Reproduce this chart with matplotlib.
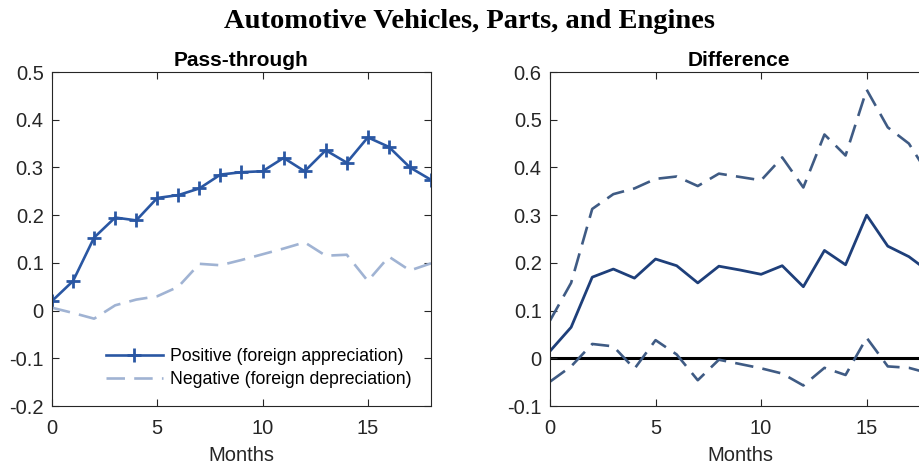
import matplotlib
matplotlib.use("Agg")
import matplotlib.pyplot as plt
import numpy as np

plt.rcParams['font.family'] = ['Liberation Sans', 'DejaVu Sans']
plt.rcParams['axes.unicode_minus'] = False

months = list(range(19))

# pass-through, left panel
positive = [0.020, 0.062, 0.153, 0.195, 0.189, 0.236, 0.242, 0.256, 0.285, 0.290,
            0.292, 0.320, 0.292, 0.336, 0.310, 0.363, 0.343, 0.300, 0.274]
negative = [0.006, -0.005, -0.017, 0.011, 0.023, 0.030, 0.050, 0.098, 0.095, 0.106,
            0.118, 0.130, 0.143, 0.115, 0.117, 0.062, 0.113, 0.084, 0.099]

# difference with bands, right panel
diff = [0.015, 0.065, 0.170, 0.187, 0.168, 0.208, 0.194, 0.158, 0.193, 0.185,
        0.176, 0.194, 0.150, 0.226, 0.196, 0.300, 0.235, 0.213, 0.180]
upper = [0.079, 0.158, 0.313, 0.344, 0.356, 0.376, 0.381, 0.361, 0.387, 0.380,
         0.373, 0.421, 0.358, 0.469, 0.425, 0.563, 0.484, 0.450, 0.380]
lower = [-0.049, -0.017, 0.030, 0.025, -0.022, 0.038, 0.008, -0.046, -0.003, -0.012,
         -0.021, -0.032, -0.057, -0.020, -0.035, 0.043, -0.017, -0.020, -0.032]

W, H = 920, 468
fig = plt.figure(figsize=(9.2, 4.68), dpi=100)

def px_axes(x0, x1, y0, y1):
    return fig.add_axes([x0 / W, 1 - y1 / H, (x1 - x0) / W, (y1 - y0) / H])

ax1 = px_axes(52, 431, 72, 406)
ax2 = px_axes(550, 930, 72, 406)

tick_col = '#262626'

def style(ax, ylim, yticks):
    ax.set_xlim(0, 18)
    ax.set_ylim(*ylim)
    ax.set_xticks([0, 5, 10, 15])
    ax.set_yticks(yticks)
    ax.set_yticklabels(['%g' % round(v, 1) for v in yticks])
    ax.tick_params(direction='in', top=True, right=True, length=5, width=0.8,
                   colors=tick_col, labelsize=14.5, pad=6)
    ax.tick_params(axis='x', pad=9)
    for s in ax.spines.values():
        s.set_color(tick_col)
        s.set_linewidth(0.8)
    ax.set_xlabel('Months', fontsize=14.5, color=tick_col, labelpad=6)

ax1.plot(months, positive, color='#2A57A3', lw=1.9, marker='+', ms=10, mew=2,
         label='Positive (foreign appreciation)')
ax1.plot(months, negative, color='#A0B3D3', lw=1.9, dashes=(7, 3.5),
         label='Negative (foreign depreciation)')
style(ax1, (-0.2, 0.5), np.arange(-0.2, 0.51, 0.1))
ax1.set_title('Pass-through', fontsize=15, fontweight='bold', pad=4)
ax1.legend(loc='lower right', bbox_to_anchor=(0.99, 0.005), frameon=False,
           fontsize=12.7, handlelength=3.2, handletextpad=0.4, labelspacing=0.35)

ax2.axhline(0, color='black', lw=2.2, zorder=1)
ax2.plot(months, upper, color='#3F5B84', lw=1.9, dashes=(7, 3.5))
ax2.plot(months, lower, color='#3F5B84', lw=1.9, dashes=(7, 3.5))
ax2.plot(months, diff, color='#1E3F7A', lw=2)
style(ax2, (-0.1, 0.6), np.arange(-0.1, 0.61, 0.1))
ax2.set_title('Difference', fontsize=15, fontweight='bold', pad=4,
              x=(739 - 550) / 380)

fig.text(470 / W, 1 - 21 / H, 'Automotive Vehicles, Parts, and Engines',
         ha='center', va='center', fontsize=20.5, fontweight='bold',
         family='Liberation Serif')

fig.savefig('out.png', dpi=100)
